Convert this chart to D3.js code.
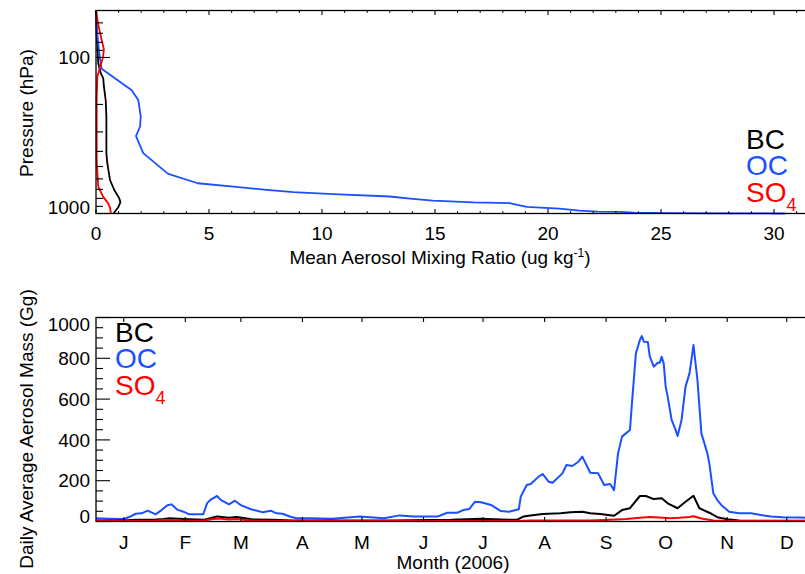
<!DOCTYPE html>
<html>
<head>
<meta charset="utf-8">
<script src="https://cdn.jsdelivr.net/npm/d3@7/dist/d3.min.js"></script>
<style>
  html, body { margin: 0; padding: 0; background: #fff; }
  svg { display: block; }
  text { font-family: "Liberation Sans", Arial, Helvetica, sans-serif; fill: #000; }
</style>
</head>
<body>
<script>
// ---------------- DATA ----------------
// Top panel: vertical profiles (pressure in hPa, mixing ratio in ug/kg)
const bcPressure  = [50, 70, 109, 126, 136, 154, 188, 241, 410, 475, 610, 707, 800, 846, 909, 970, 1000];
const bcMixing    = [0.01, 0.03, 0.10, 0.21, 0.32, 0.35, 0.43, 0.46, 0.46, 0.50, 0.62, 0.81, 1.03, 1.08, 0.99, 0.84, 0.77];

const ocPressure  = [50, 66, 90, 109, 118, 162, 187, 239, 277, 319, 410, 551, 558, 640, 673, 706, 730, 751, 778, 804, 828, 849, 857, 878, 908, 931, 959, 973, 977, 988, 995, 998, 1000];
const ocMixing    = [0.0, 0.04, 0.13, 0.21, 0.25, 1.58, 1.87, 1.98, 1.95, 1.77, 2.09, 3.15, 3.2, 4.5, 6.08, 7.55, 8.73, 10.5, 13.0, 13.9, 14.9, 16.7, 18.3, 18.6, 19.06, 20.5, 21.4, 22.2, 23.2, 23.8, 25.5, 28.0, 30.5];

const so4Pressure = [50, 62, 77, 89, 101, 115, 133, 187, 455, 674, 783, 861, 918, 1000];
const so4Mixing   = [0.0, 0.10, 0.25, 0.35, 0.30, 0.18, 0.06, 0.03, 0.03, 0.10, 0.32, 0.54, 0.62, 0.66];

// Bottom panel: daily average aerosol mass (Gg), day of year 2006
const ocDays = [1, 8, 15, 18, 21, 24, 27, 31, 34, 37,
                39, 42, 45, 48, 55, 57, 59, 62, 64, 68,
                71, 74, 79, 85, 89, 92, 95, 99, 102, 109,
                120, 134, 146, 154, 161, 173, 178, 183, 186, 189,
                192, 195, 200, 205, 209, 214, 215, 218, 220, 224,
                226, 229, 231, 236, 238, 241, 244, 246, 250, 254,
                257, 260, 262, 264, 266, 270, 271, 273, 275, 276,
                277, 279, 280, 282, 284, 285, 286, 287, 288, 289,
                291, 293, 294, 296, 298, 300, 302, 304, 306, 309,
                310, 312, 314, 316, 320, 325, 331, 336, 341, 347,
                356, 366];
const ocMass = [16, 14, 12, 23, 38, 40, 53, 35, 56, 80,
                84, 58, 48, 35, 35, 90, 109, 125, 105, 84,
                102, 80, 60, 45, 53, 40, 38, 23, 16, 16,
                14, 24, 16, 30, 24, 24, 43, 43, 56, 61,
                97, 94, 81, 51, 48, 60, 122, 179, 184, 220,
                233, 195, 190, 236, 277, 272, 293, 318, 239, 236,
                179, 184, 154, 334, 416, 449, 579, 824, 890, 909,
                881, 880, 808, 759, 778, 778, 808, 775, 661, 612,
                498, 449, 419, 498, 661, 726, 865, 694, 432, 334,
                285, 138, 105, 81, 48, 40, 40, 32, 24, 21,
                19, 18];

const bcDays = [1, 15, 21, 30, 35, 38, 45, 55, 60, 62,
                68, 72, 80, 90, 100, 120, 150, 180, 195, 205,
                213, 216, 218, 226, 235, 240, 246, 250, 255, 262,
                266, 270, 275, 278, 282, 286, 289, 294, 298, 302,
                305, 310, 314, 319, 325, 340, 366];
const bcMass = [5, 5, 8, 8, 12, 16, 12, 8, 20, 25,
                18, 22, 10, 8, 5, 5, 5, 8, 14, 10,
                8, 23, 27, 37, 40, 45, 48, 40, 37, 28,
                56, 65, 125, 125, 110, 114, 89, 65, 97, 126,
                65, 43, 21, 11, 5, 4, 4];

const so4Days = [1, 30, 37, 45, 55, 60, 63, 68, 72, 80,
                 100, 200, 213, 220, 250, 260, 268, 275, 280, 285,
                 290, 295, 300, 302, 306, 312, 320, 366];
const so4Mass = [2, 4, 8, 4, 4, 12, 15, 10, 12, 4,
                 2, 3, 3, 5, 5, 8, 12, 18, 22, 20,
                 16, 18, 22, 26, 15, 5, 2, 2];

// Tick labels
const topXTicks      = [0, 5, 10, 15, 20, 25, 30];
const topYTicks      = [100, 1000];
const topYMinorTicks = [60, 70, 80, 90, 200, 300, 400, 500, 600, 700, 800, 900];
const botYTicks      = [0, 200, 400, 600, 800, 1000];
const monthLabels    = ["J", "F", "M", "A", "M", "J", "J", "A", "S", "O", "N", "D"];
const monthMidDays   = [15, 46, 74, 105, 135, 166, 196, 227, 258, 288, 319, 349];

const speciesColors = { BC: "#000000", OC: "#1a50ff", SO4: "#ff0000" };

// ---------------- DRAW ----------------
const W = 805, H = 574;
const svg = d3.select("body").append("svg").attr("width", W).attr("height", H);
svg.append("rect").attr("width", W).attr("height", H).attr("fill", "#fff");

const FS = 19;

// ===== Top panel =====
const T = { l: 96, r: 819.2, t: 10.5, b: 213.5 };
const xTop = d3.scaleLinear().domain([0, 32]).range([T.l, T.r]);
const yTop = d3.scaleLog().domain([50, 1000]).range([T.t, T.b]);

const gT = svg.append("g");

const profiles = [
  { name: "BC",  p: bcPressure,  v: bcMixing },
  { name: "OC",  p: ocPressure,  v: ocMixing },
  { name: "SO4", p: so4Pressure, v: so4Mixing }
];
const profLine = d3.line().x(d => xTop(d[1])).y(d => yTop(d[0]));
profiles.forEach(s => {
  gT.append("path")
    .datum(d3.zip(s.p, s.v))
    .attr("d", profLine)
    .attr("fill", "none")
    .attr("stroke", speciesColors[s.name])
    .attr("stroke-width", 1.8)
    .attr("stroke-linejoin", "round");
});

// frame
function frame(g, B) {
  g.append("rect").attr("x", B.l).attr("y", B.t).attr("width", B.r - B.l).attr("height", B.b - B.t)
    .attr("fill", "none").attr("stroke", "#000").attr("stroke-width", 1.3);
}
frame(gT, T);

// x ticks (bottom & top), minor every 1
const topXMinor = xTop.ticks(32).filter(v => v % 5 !== 0);
function vTicks(g, xs, y0, len) {
  g.selectAll(null).data(xs).enter().append("line")
    .attr("x1", d => d).attr("x2", d => d)
    .attr("y1", y0).attr("y2", y0 + len)
    .attr("stroke", "#000").attr("stroke-width", 1.1);
}
function hTicks(g, ys, x0, len) {
  g.selectAll(null).data(ys).enter().append("line")
    .attr("y1", d => d).attr("y2", d => d)
    .attr("x1", x0).attr("x2", x0 + len)
    .attr("stroke", "#000").attr("stroke-width", 1.1);
}
vTicks(gT, topXTicks.map(xTop), T.b, -4.5);
vTicks(gT, topXTicks.map(xTop), T.t, 4.5);
vTicks(gT, topXMinor.map(xTop), T.b, -2.3);
vTicks(gT, topXMinor.map(xTop), T.t, 2.3);
hTicks(gT, topYTicks.map(yTop), T.l, 14);
hTicks(gT, topYMinorTicks.map(yTop), T.l, 7);

gT.selectAll(null).data(topXTicks).enter().append("text")
  .attr("x", d => xTop(d)).attr("y", 239.5)
  .attr("text-anchor", "middle").attr("font-size", FS).text(d => d);

gT.selectAll(null).data(topYTicks).enter().append("text")
  .attr("x", 90).attr("y", d => yTop(d) + (d === 1000 ? -6 : 0))
  .attr("dy", "0.35em")
  .attr("text-anchor", "end").attr("font-size", FS).text(d => d);

const xt = gT.append("text").attr("x", 440).attr("y", 263.5)
  .attr("text-anchor", "middle").attr("font-size", FS);
xt.append("tspan").text("Mean Aerosol Mixing Ratio (ug kg");
xt.append("tspan").attr("font-size", 12).attr("dy", -7).text("-1");
xt.append("tspan").attr("dy", 7).text(")");

gT.append("text").attr("transform", "translate(33,113) rotate(-90)")
  .attr("text-anchor", "middle").attr("font-size", FS).text("Pressure (hPa)");

function legend(g, x, y0, step) {
  const names = ["BC", "OC", "SO4"];
  names.forEach((n, i) => {
    const t = g.append("text").attr("x", x).attr("y", y0 + i * step)
      .attr("font-size", 28).style("fill", speciesColors[n]);
    if (n === "SO4") {
      t.append("tspan").text("SO");
      t.append("tspan").attr("font-size", 18).attr("dy", 9).text("4");
    } else {
      t.text(n);
    }
  });
}
legend(gT, 746, 148.5, 26.5);

// ===== Bottom panel =====
const B = { l: 96, r: 820.5, t: 317.5, b: 521.5 };
const xBot = d3.scaleLinear().domain([1, 366]).range([B.l, B.r]);
const yBot = d3.scaleLinear().domain([0, 1000]).range([B.b, B.t]);

const gB = svg.append("g");
const massLine = d3.line().x(d => xBot(d[0])).y(d => yBot(d[1]));
const series = [
  { name: "OC",  d: ocDays,  v: ocMass },
  { name: "BC",  d: bcDays,  v: bcMass },
  { name: "SO4", d: so4Days, v: so4Mass }
];
series.forEach(s => {
  gB.append("path")
    .datum(d3.zip(s.d, s.v))
    .attr("d", massLine)
    .attr("fill", "none")
    .attr("stroke", speciesColors[s.name])
    .attr("stroke-width", 2)
    .attr("stroke-linejoin", "round");
});

frame(gB, B);
const botYMinor = yBot.ticks(20).filter(v => v % 200 !== 0);
hTicks(gB, botYTicks.map(yBot), B.l, 14);
hTicks(gB, botYMinor.map(yBot), B.l, 7);
vTicks(gB, monthMidDays.map(xBot), B.b, -4.5);
vTicks(gB, monthMidDays.map(xBot), B.t, 4.5);

gB.selectAll(null).data(botYTicks).enter().append("text")
  .attr("x", 90).attr("y", d => yBot(d) + (d === 1000 ? 6.5 : (d === 0 ? -5.5 : 0)))
  .attr("dy", "0.35em")
  .attr("text-anchor", "end").attr("font-size", FS).text(d => d);

gB.selectAll(null).data(monthLabels).enter().append("text")
  .attr("x", (d, i) => xBot(monthMidDays[i])).attr("y", 548.5)
  .attr("text-anchor", "middle").attr("font-size", FS).text(d => d);

gB.append("text").attr("x", 453).attr("y", 569)
  .attr("text-anchor", "middle").attr("font-size", FS).text("Month (2006)");

gB.append("text").attr("transform", "translate(33,429) rotate(-90)")
  .attr("text-anchor", "middle").attr("font-size", FS).text("Daily Average Aerosol Mass (Gg)");

legend(gB, 115, 341.5, 26.5);
</script>
</body>
</html>
